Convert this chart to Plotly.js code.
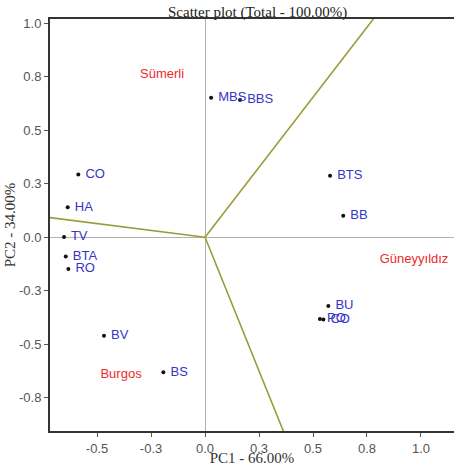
<!DOCTYPE html>
<html>
<head>
<meta charset="utf-8">
<script src="https://cdn.plot.ly/plotly-3.0.1.min.js"></script>
<style>html,body{margin:0;padding:0;overflow:hidden;background:#fff}</style>
</head>
<body>
<div id="chart" style="width:454px;height:466px"></div>
<script>
// Observations (PC1, PC2 scores)
const obsNames = [" MBS", " BBS", " CO", " HA", " TV", " BTA", " RO", " BV", " BS", " BTS", " BB", " BU", " PO", " CO"];
const obsPC1 = [0.028, 0.162, -0.587, -0.636, -0.653, -0.645, -0.633, -0.468, -0.193, 0.579, 0.640, 0.571, 0.532, 0.548];
const obsPC2 = [0.652, 0.642, 0.294, 0.140, 0.002, -0.090, -0.148, -0.460, -0.631, 0.288, 0.101, -0.321, -0.382, -0.384];

// Variables (group labels) and their position
const varNames = ["Sümerli", "Güneyyıldız", "Burgos"];
const varPC1 = [-0.199, 0.968, -0.389];
const varPC2 = [0.758, -0.106, -0.643];

// Biplot axis directions (extended beyond the frame)
const vecPC1 = [0.917, -0.9, 0.4406];
const vecPC2 = [1.2, 0.115, -1.1];

// Tick values and labels
const tickVals = [-0.5, -0.25, 0, 0.25, 0.5, 0.75, 1.0];
const tickText = ["-0.5", "-0.3", "0.0", "0.3", "0.5", "0.8", "1.0"];
const yTickVals = [-0.75, -0.5, -0.25, 0, 0.25, 0.5, 0.75, 1.0];
const yTickText = ["-0.8", "-0.5", "-0.3", "0.0", "0.3", "0.5", "0.8", "1.0"];

const traces = [];
for (let i = 0; i < vecPC1.length; i++) {
  traces.push({
    x: [0, vecPC1[i]], y: [0, vecPC2[i]],
    mode: 'lines', type: 'scatter',
    line: {color: '#9a9c3c', width: 1.6},
    hoverinfo: 'skip', showlegend: false
  });
}
traces.push({
  x: obsPC1, y: obsPC2, text: obsNames,
  mode: 'markers+text', type: 'scatter',
  textposition: 'middle right',
  marker: {color: '#111', size: 4},
  textfont: {family: 'Liberation Sans, Arial, sans-serif', size: 13, color: '#3535c8'},
  showlegend: false
});
traces.push({
  x: varPC1, y: varPC2, text: varNames,
  mode: 'text', type: 'scatter',
  textposition: 'middle center',
  textfont: {family: 'Liberation Sans, Arial, sans-serif', size: 13, color: '#ee2a2a'},
  showlegend: false
});

const layout = {
  width: 454, height: 466,
  margin: {l: 50, r: 0, t: 19, b: 35},
  paper_bgcolor: '#fff', plot_bgcolor: '#fff',
  title: {
    text: 'Scatter plot (Total - 100.00%)',
    font: {family: 'Liberation Serif, Times New Roman, serif', size: 15, color: '#222'},
    xref: 'paper', x: 0.514, xanchor: 'center',
    yref: 'container', y: 0.974, yanchor: 'middle'
  },
  xaxis: {
    range: [-0.718, 1.153],
    tickvals: tickVals, ticktext: tickText,
    showgrid: false,
    zeroline: true, zerolinecolor: '#b0b0b0', zerolinewidth: 1,
    showline: true, linecolor: '#333', linewidth: 2, mirror: true,
    ticks: 'outside', ticklen: 4, tickcolor: '#555',
    tickfont: {family: 'Liberation Sans, Arial, sans-serif', size: 13, color: '#555'},
    title: {text: 'PC1 - 66.00%', standoff: 0,
      font: {family: 'Liberation Serif, Times New Roman, serif', size: 15, color: '#333'}}
  },
  yaxis: {
    range: [-0.905, 1.02],
    tickvals: yTickVals, ticktext: yTickText,
    showgrid: false,
    zeroline: true, zerolinecolor: '#b0b0b0', zerolinewidth: 1,
    showline: true, linecolor: '#333', linewidth: 2, mirror: false,
    ticks: 'outside', ticklen: 4, tickcolor: '#555',
    tickfont: {family: 'Liberation Sans, Arial, sans-serif', size: 13, color: '#555'},
    title: {text: 'PC2 - 34.00%', standoff: 0,
      font: {family: 'Liberation Serif, Times New Roman, serif', size: 15, color: '#333'}}
  }
};

Plotly.newPlot('chart', traces, layout, {displayModeBar: false, staticPlot: true});
</script>
</body>
</html>
